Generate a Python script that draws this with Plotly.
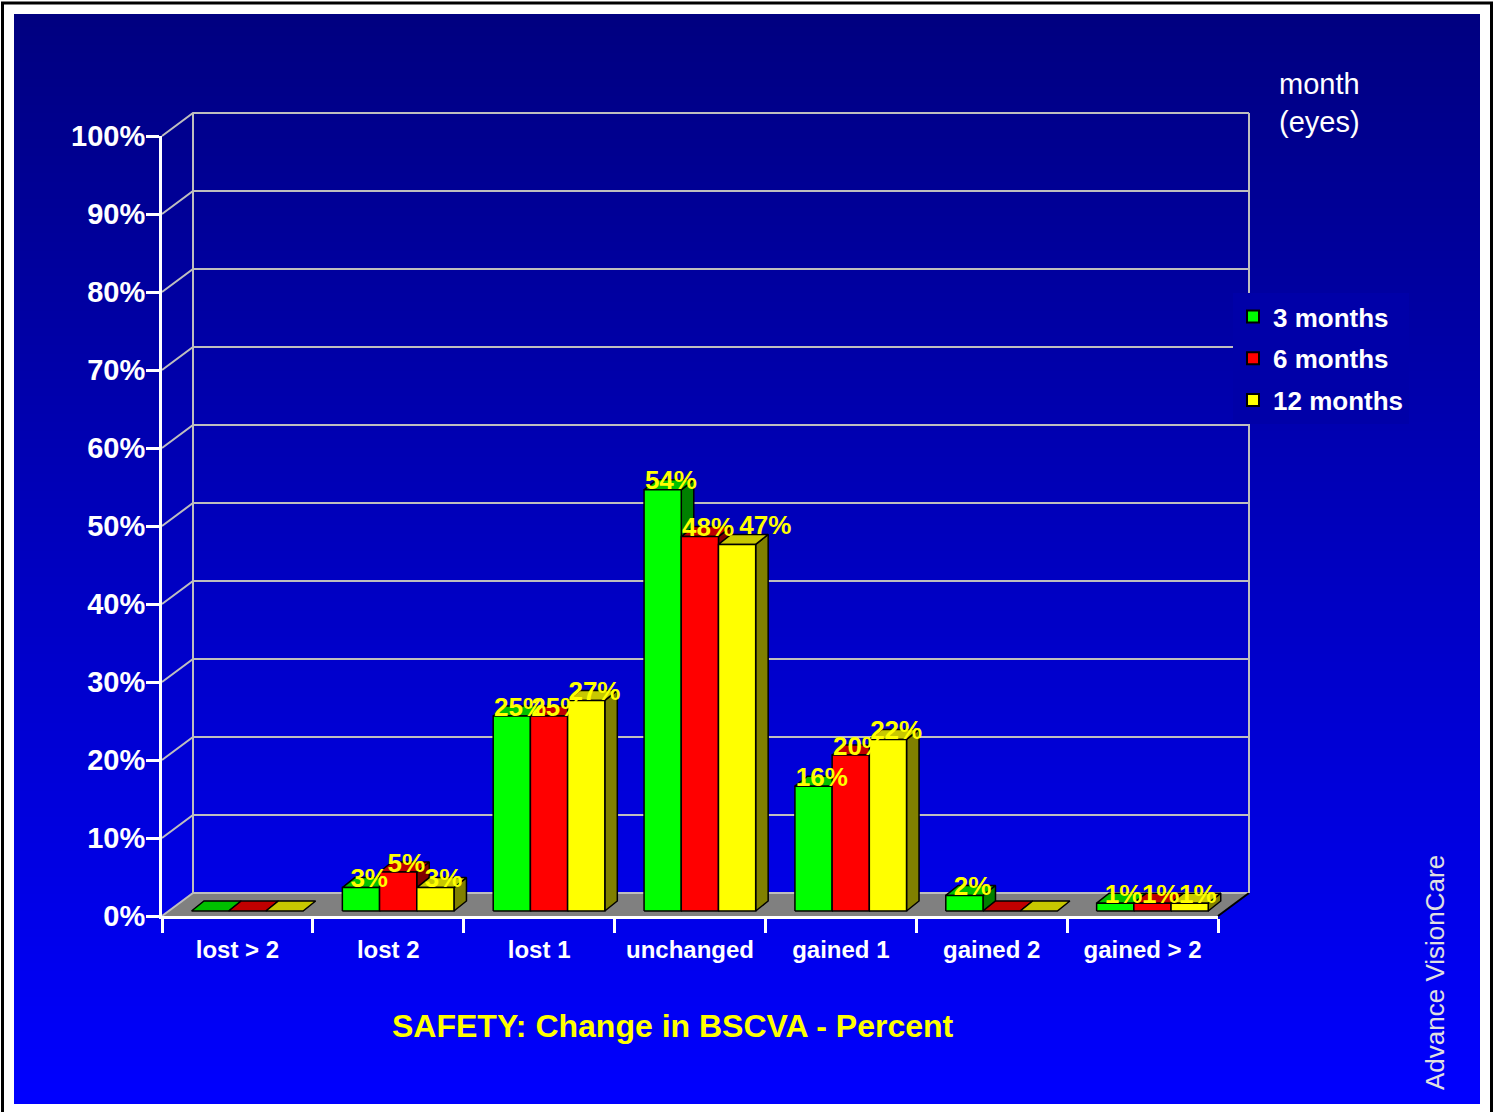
import plotly.graph_objects as go

# ---- data -------------------------------------------------------------
categories = ["lost > 2", "lost 2", "lost 1", "unchanged", "gained 1", "gained 2", "gained > 2"]
series_names = ["3 months", "6 months", "12 months"]
pct_3_months = [0, 3, 25, 54, 16, 2, 1]
pct_6_months = [0, 5, 25, 48, 20, 0, 1]
pct_12_months = [0, 3, 27, 47, 22, 0, 1]
series_values = [pct_3_months, pct_6_months, pct_12_months]
y_tick_values = [0, 10, 20, 30, 40, 50, 60, 70, 80, 90, 100]
y_tick_labels = ["0%", "10%", "20%", "30%", "40%", "50%", "60%", "70%", "80%", "90%", "100%"]

# ---- styling ----------------------------------------------------------
FONT = "Arial, 'Liberation Sans', sans-serif"
front_colors = ["#00FF00", "#FF0000", "#FFFF00"]
top_colors = ["#00C000", "#C00000", "#C8C800"]
side_colors = ["#008000", "#800000", "#808000"]
GRID = "#BEBEBE"

# ---- page geometry (pixels) --------------------------------------------
W, H = 1494, 1112
AX_L, AX_R = 162, 1218       # front edge of the floor
AX_B, AX_T = 916, 136        # 0% and 100% on the front axis
n_cat = len(categories)
px_cat = (AX_R - AX_L) / n_cat
px_pct = (AX_B - AX_T) / 100.0

# depth of the 3-D box and the columns, in data units
DX, DY = 31 / px_cat, 23 / px_pct
GAP, BW = 29.5 / px_cat, 37.2 / px_cat
BASE = 5 / px_pct
BDX, BDY = 12.5 / px_cat, 10 / px_pct

# label nudges (pixels) where a value label is moved off its neighbour
label_nudge = {(3, 2): (20, -10)}


def py(p):
    """pixel row -> paper y"""
    return 1 - p / H


fig = go.Figure()

# blue gradient panel (navy at the top, bright blue at the bottom)
PX0, PX1, PY0, PY1 = 14, 1480, 14, 1104
fig.add_trace(go.Heatmap(
    x=[0, 1], y=[0, 1], z=[[1, 1], [0, 0]], zsmooth="best", showscale=False,
    colorscale=[[0, "rgb(0,0,128)"], [1, "rgb(0,0,255)"]], zmin=0, zmax=1,
    hoverinfo="skip", xaxis="x", yaxis="y"))

shapes = [dict(type="rect", xref="paper", yref="paper", layer="below",
               x0=2.5 / W, x1=1491.5 / W, y0=py(3), y1=py(1116),
               fillcolor="rgba(0,0,0,0)", line=dict(color="black", width=3))]


def poly(xs, ys, fill, line_color="black", width=1.5):
    fig.add_trace(go.Scatter(
        x=list(xs) + [xs[0]], y=list(ys) + [ys[0]], mode="lines", fill="toself",
        fillcolor=fill, line=dict(color=line_color, width=width),
        hoverinfo="skip", showlegend=False, xaxis="x2", yaxis="y2"))


def seg(xs, ys, color=GRID, width=2):
    fig.add_trace(go.Scatter(x=xs, y=ys, mode="lines", line=dict(color=color, width=width),
                             hoverinfo="skip", showlegend=False, xaxis="x2", yaxis="y2"))


# floor
poly([0, n_cat, n_cat + DX, DX], [0, 0, DY, DY], "#808080", line_color="#808080", width=1)
seg([0, DX, n_cat + DX], [0, DY, DY], color=GRID, width=2)
seg([n_cat, n_cat + DX], [0, DY], color="black", width=2)

# walls: side-wall diagonals, back-wall gridlines and edges
for v in y_tick_values[1:]:
    seg([0, DX, n_cat + DX], [v, v + DY, v + DY])
seg([DX, DX], [DY, 100 + DY])
seg([n_cat + DX, n_cat + DX], [DY, 100 + DY])

# columns, drawn left to right so nearer faces cover the ones behind
lab_x, lab_y, lab_t = [], [], []
for i in range(n_cat):
    for j, vals in enumerate(series_values):
        v = vals[i]
        xl = i + GAP + j * BW
        xr = xl + BW
        top = BASE + v
        if v > 0:
            poly([xr, xr + BDX, xr + BDX, xr], [BASE, BASE + BDY, top + BDY, top], side_colors[j])
        poly([xl, xr, xr + BDX, xl + BDX], [top, top, top + BDY, top + BDY], top_colors[j])
        if v > 0:
            poly([xl, xr, xr, xl], [BASE, BASE, top, top], front_colors[j])
            nx, ny = label_nudge.get((i, j), (0, 0))
            lab_x.append(xl + BW / 2 + BDX / 2 + (2 + nx) / px_cat)
            lab_y.append(top + BDY - (3 + ny) / px_pct)
            lab_t.append(f"{v}%")

fig.add_trace(go.Scatter(
    x=lab_x, y=lab_y, text=lab_t, mode="text", textposition="middle center",
    textfont=dict(family=FONT, size=26, color="#FFFF00", weight="bold"),
    hoverinfo="skip", showlegend=False, cliponaxis=False, xaxis="x2", yaxis="y2"))

# legend entries
for j, name in enumerate(series_names):
    fig.add_trace(go.Scatter(
        x=[None], y=[None], mode="markers", name=name, legendgroup=name,
        marker=dict(symbol="square", size=15, color=front_colors[j],
                    line=dict(color="black", width=2)),
        xaxis="x2", yaxis="y2"))

# empty trace so the front axes are drawn
fig.add_trace(go.Scatter(x=[None], y=[None], xaxis="x3", yaxis="y3",
                         showlegend=False, hoverinfo="skip"))

hidden = dict(visible=False, fixedrange=True, automargin=False)
fig.update_layout(
    width=W, height=H, autosize=False,
    margin=dict(l=0, r=0, t=0, b=0, pad=0, autoexpand=False),
    paper_bgcolor="white", plot_bgcolor="rgba(0,0,0,0)",
    font=dict(family=FONT, color="white"),
    shapes=shapes,
    xaxis=dict(domain=[PX0 / W, PX1 / W], range=[0, 1], **hidden),
    yaxis=dict(domain=[py(PY1), py(PY0)], range=[0, 1], **hidden),
    xaxis2=dict(domain=[0, 1], range=[-AX_L / px_cat, (W - AX_L) / px_cat], anchor="y2", **hidden),
    yaxis2=dict(domain=[0, 1], range=[-(H - AX_B) / px_pct, AX_B / px_pct], anchor="x2", **hidden),
    xaxis3=dict(domain=[AX_L / W, AX_R / W], range=[0, n_cat], anchor="y3", automargin=False,
                showgrid=False, zeroline=False, showline=True, linecolor="white", linewidth=3,
                tickmode="array", tickvals=[i + 0.5 for i in range(n_cat)], ticktext=categories,
                ticks="", ticklabelstandoff=10,
                tickfont=dict(family=FONT, size=24, color="white", weight="bold"),
                minor=dict(tick0=0, dtick=1, ticks="outside", ticklen=14, tickwidth=3,
                           tickcolor="white", showgrid=False),
                fixedrange=True),
    yaxis3=dict(domain=[py(AX_B), py(AX_T)], range=[0, 100], anchor="x3", automargin=False,
                showgrid=False, zeroline=False, showline=True, linecolor="white", linewidth=3,
                tickmode="array", tickvals=y_tick_values, ticktext=y_tick_labels,
                ticks="outside", ticklen=13, tickwidth=3, tickcolor="white",
                ticklabelstandoff=-5,
                tickfont=dict(family=FONT, size=29, color="white", weight="bold"),
                fixedrange=True),
    showlegend=True,
    legend=dict(x=1233 / W, y=py(293), xanchor="left", yanchor="top",
                bgcolor="rgb(0,0,168)", borderwidth=0, tracegroupgap=5,
                font=dict(family=FONT, size=26, color="white", weight="bold"),
                itemsizing="constant", itemwidth=30),
    annotations=[
        dict(text="month<br>(eyes)", xref="paper", yref="paper", x=1319 / W, y=py(103),
             showarrow=False, xanchor="center", yanchor="middle", align="left",
             font=dict(family=FONT, size=29, color="white")),
        dict(text="SAFETY: Change in BSCVA - Percent", xref="paper", yref="paper",
             x=673 / W, y=py(1026), showarrow=False, xanchor="center", yanchor="middle",
             font=dict(family=FONT, size=32, color="#FFFF00", weight="bold")),
        dict(text="Advance VisionCare", xref="paper", yref="paper", x=1435 / W, y=py(973),
             showarrow=False, xanchor="center", yanchor="middle", textangle=-90,
             font=dict(family=FONT, size=26, color="#E0E0E0")),
    ],
)

fig.write_html("out.html")
